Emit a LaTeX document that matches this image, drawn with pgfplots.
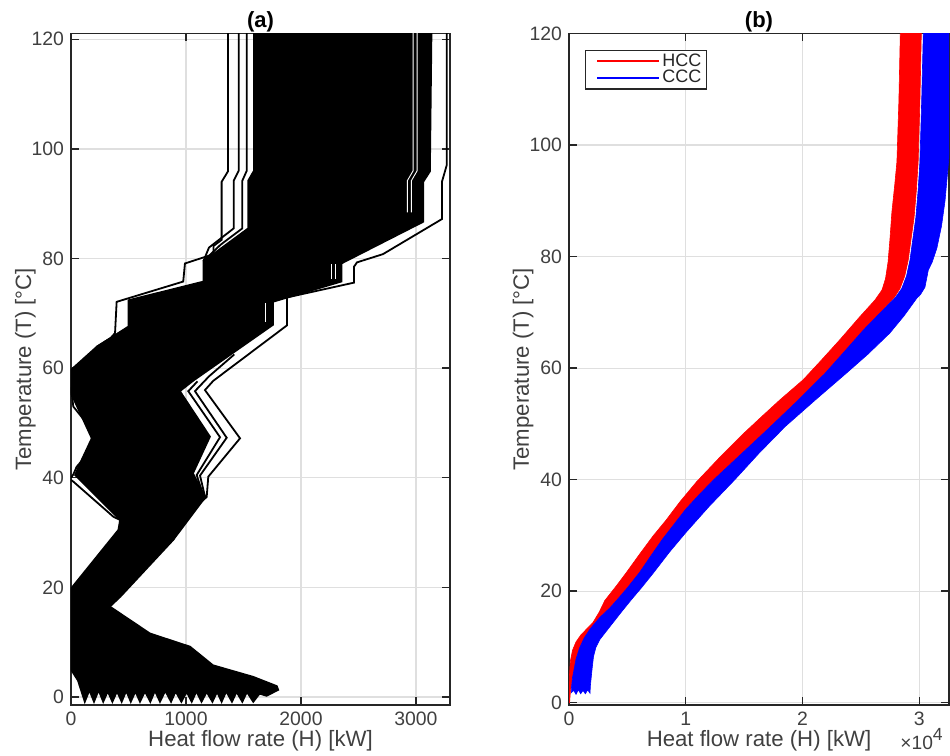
\documentclass[border=0pt]{standalone}
\usepackage{fontspec}
\setmainfont{Liberation Sans}
\usepackage{pgfplots}
\pgfplotsset{compat=1.18}

\definecolor{axgray}{RGB}{38,38,38}
\definecolor{txtgray}{RGB}{64,64,64}
\definecolor{gridgray}{RGB}{223,223,223}

\pgfplotsset{
  mlab/.style={
    scale only axis,
    width=189.5pt, height=335.75pt,
    axis line style={axgray, line width=0.7pt},
    tick style={axgray, line width=0.7pt},
    major tick length=4pt,
    tick align=inside,
    grid=major,
    major grid style={gridgray, line width=0.6pt},
    ytick={0,20,40,60,80,100,120},
    yticklabels={0,20,40,60,80,100,120},
    tick label style={font=\fontsize{9.7}{11}\selectfont, text=txtgray},
    label style={font=\fontsize{11.1}{13}\selectfont, text=txtgray},
    title style={font=\fontsize{11}{13}\selectfont\bfseries, text=black,
      at={(axis description cs:0.5,0.9911)}, anchor=base},
    xlabel style={at={(axis description cs:0.5,-0.0621)}, anchor=base},
    ylabel style={at={(axis description cs:-0.0923,0.5)}, anchor=south, inner sep=0pt},
    xlabel={Heat flow rate (H) [kW]},
    ylabel={Temperature (T) [°C]},
  },
  band/.style={black, line width=0.9pt},
  gap/.style={white, line width=0.45pt},
}

\begin{document}
\begin{tikzpicture}
% ---------------- (a) ----------------
\begin{axis}[mlab, name=a, at={(0pt,0pt)}, anchor=south west,
  xmin=0, xmax=3296, ymin=-1.46, ymax=121.06,
  xtick={0,1000,2000,3000}, xticklabels={0,1000,2000,3000}, title={(a)}]

% dense band of curves
\addplot[draw=black, line width=0.8pt, fill=black] coordinates {
 (1590,122) (1590,96.0) (1540,94.2) (1540,85.5) (1151,79.5) (1151,75.8)
 (499,72.4) (499,67.6) (223,63.9) (0,59.7) (0,55.4) (180,47.2) (64,42.0)
 (35,40.5) (426,32.3) (412,30.5) (0,19.8) (0,5.0)
 (60,3.0) (120,-0.9) (160,1.2) (200,-0.9) (240,1.2) (280,-0.9) (320,1.0)
 (360,-0.9) (400,1.0) (441,-0.9) (480,1.1) (520,-0.9) (560,1.0) (600,-0.9)
 (643,1.0) (690,-0.9) (730,1.1) (774,-0.9) (820,1.1) (870,-0.9) (910,1.0)
 (960,-0.9) (1006,0.9) (1050,-0.9) (1090,1.0) (1135,-0.9) (1180,0.9)
 (1230,-0.9) (1270,0.9) (1310,-0.9) (1350,1.0) (1400,-0.9) (1440,0.9)
 (1490,-0.9) (1530,0.9) (1585,-0.9) (1640,0.6) (1701,0.2) (1803,1.3)
 (1790,2.0) (1583,3.7) (1235,5.8) (1035,9.2) (687,11.6) (339,16.5)
 (430,18.3) (887,28.6) (1170,36.5) (1061,40.8) (1209,47.5) (948,55.8)
 (1063,57.7) (1757,67.9) (1757,72.1) (2353,75.8) (2353,79.1) (3064,86.7)
 (3064,94.0) (3122,95.9) (3136,122)
} -- cycle;

% gaps between neighbouring curves inside the band
\addplot[gap] coordinates {(2975,122) (2975,96) (2925,94.2) (2925,88.4)};
\addplot[gap] coordinates {(3010,122) (3010,96) (2960,94.2) (2960,88.4)};
\addplot[gap] coordinates {(2265,79.0) (2265,76.3)};
\addplot[gap] coordinates {(2300,79.0) (2300,76.3)};
\addplot[gap] coordinates {(1690,71.8) (1690,68.4)};

% outlying curves, right side
\addplot[band] coordinates {
 (3267,122) (3267,97) (3252,95.9) (3226,94) (3226,87.2) (2713,80.8)
 (2487,79.3) (2461,78.5) (2461,75.6) (1878,72.9) (1878,67.8) (1238,57.7)
 (1165,56.0) (1470,47.2) (1194,40.2) (1180,36.5) (1006,33.2) (887,28.6)
};
\addplot[band] coordinates {
 (1420,62.5) (1200,58.5) (1078,55.8) (1354,47.3) (1122,40.4) (1165,36.6) (1000,33)
};
\addplot[band] coordinates {
 (1100,57.6) (1020,55.8) (1296,47.4) (1093,40.5) (1150,36.8) (990,33)
};
% outlying curves, left side
\addplot[band] coordinates {
 (1365,122) (1365,95.9) (1310,94.0) (1310,83.4) (1240,82.3) (1240,80.8)
 (991,79.1) (976,75.8) (397,72.1) (383,66.4) (345,65.5) (223,63.9)
};
\addplot[band] coordinates {
 (1458,122) (1458,96) (1415,94.2) (1415,85.5) (1200,82.0) (1151,79.5)
};
\addplot[band] coordinates {
 (1528,122) (1528,96) (1490,94.2) (1490,85.5) (1300,82.5) (1151,79.5)
};
\addplot[band] coordinates {
 (0,56.5) (20,53.0) (252,46.9) (49,42.0) (20,40.6) (0,40.0)
};
\addplot[band] coordinates {
 (0,39.6) (20,39.3) (368,32.9) (426,32.3)
};
\end{axis}

% ---------------- (b) ----------------
\begin{axis}[mlab, name=b, at={(249pt,0pt)}, anchor=south west, width=190pt,
  xmin=0, xmax=3.254, ymin=-0.41, ymax=120,
  xtick={0,1,2,3}, xticklabels={0,1,2,3}, title={(b)},
  ylabel style={at={(axis description cs:-0.0921,0.5)}},
  legend style={at={(axis description cs:0.0421,0.9754)}, anchor=north west,
    draw=axgray, line width=0.7pt, font=\fontsize{9}{10}\selectfont,
    text=axgray, inner xsep=1.5pt, inner ysep=0.5pt, row sep=-1.5pt,
    nodes={inner sep=1pt}},
  legend cell align=left,
  legend image code/.code={\path (0pt,0pt);
    \draw[#1, line width=1pt] (4pt,0pt) -- (35pt,0pt);}]

% HCC band
\addplot[forget plot, draw=red, line width=0.3pt, fill=red] coordinates {
 (0,0) (0,2.5) (0.004,5) (0.012,7.5) (0.03,9.4) (0.06,10.9) (0.1,12.1)
 (0.15,13.2) (0.206,14.4) (0.26,16.3) (0.306,18.3) (0.4,20.8) (0.49,23.3)
 (0.6,26.5) (0.72,29.9) (0.83,32.7) (0.949,36.0) (1.092,39.6) (1.3,44.2)
 (1.491,48.2) (1.65,51.3) (1.806,54.3) (2.005,57.9) (2.16,61.4) (2.32,65.1)
 (2.49,69.2) (2.62,72.2) (2.68,74.0) (2.71,76.0) (2.732,79.0) (2.748,83)
 (2.765,88) (2.79,93) (2.808,97) (2.825,108) (2.838,121)
 (3.018,121) (3.005,108) (2.99,97) (2.975,92) (2.955,87) (2.925,82.5)
 (2.905,79.4) (2.875,76.5) (2.835,74.3) (2.79,72.8) (2.66,69.8) (2.52,66.8)
 (2.36,63.0) (2.19,59) (1.95,54.0) (1.70,49) (1.47,44.5) (1.24,40)
 (1.11,37.2) (1.0,34.7) (0.90,32.0) (0.80,29.3) (0.70,26.3) (0.606,23.4)
 (0.5,20.6) (0.406,18.3) (0.35,17.0) (0.26,15.2) (0.18,13.2) (0.13,11.6)
 (0.09,9.8) (0.06,7.8) (0.03,4.5) (0.012,2) (0.005,0)
} -- cycle;

% CCC band
\addplot[forget plot, draw=blue, line width=0.3pt, fill=blue] coordinates {
 (0.02,1.8) (0.02,2.5) (0.03,4.5) (0.06,7.8) (0.09,9.8) (0.13,11.6)
 (0.18,13.2) (0.26,15.2) (0.35,17.0) (0.406,18.3) (0.5,20.6) (0.606,23.4)
 (0.70,26.3) (0.80,29.3) (0.90,32.0) (1.0,34.7) (1.11,37.2) (1.24,40)
 (1.47,44.5) (1.70,49) (1.95,54.0) (2.19,59) (2.36,63.0) (2.52,66.8)
 (2.66,69.8) (2.80,72.8) (2.85,74.3) (2.89,76.5) (2.92,79.4) (2.94,82.5)
 (2.97,87) (2.99,92) (3.005,97) (3.02,108) (3.035,121)
 (3.32,121) (3.29,108) (3.25,97) (3.22,90) (3.19,85.5) (3.15,81.5)
 (3.11,79) (3.077,77.6) (3.048,74.5) (3.01,73.2) (2.977,72.5) (2.87,69.4)
 (2.748,66.3) (2.56,62.5) (2.37,59) (2.11,54.3) (1.85,49.5) (1.63,44.8)
 (1.42,40) (1.2,35.2) (1.0,30.5) (0.86,27) (0.72,23.2) (0.62,20.6)
 (0.535,18.5) (0.45,16.3) (0.36,13.9) (0.30,12.3) (0.263,11.3) (0.23,9.9)
 (0.21,8.3) (0.20,6.5) (0.19,4.5) (0.183,3.0) (0.18,1.7)
 (0.16,2.3) (0.14,1.6) (0.12,2.2) (0.10,1.6) (0.08,2.3) (0.06,1.5) (0.04,2.2)
} -- cycle;

\addlegendimage{red}
\addlegendentry{HCC}
\addlegendimage{blue}
\addlegendentry{CCC}
\end{axis}

\node[anchor=base west, inner sep=0pt, font=\fontsize{9.6}{11}\selectfont, text=txtgray]
  at (414.5pt,-22.5pt) {×10\raisebox{4.5pt}{\fontsize{8.8}{10}\selectfont 4}};

\pgfresetboundingbox
\path[use as bounding box] (-35.5pt,-25.5pt) rectangle (439.5pt,352.5pt);
\end{tikzpicture}
\end{document}
